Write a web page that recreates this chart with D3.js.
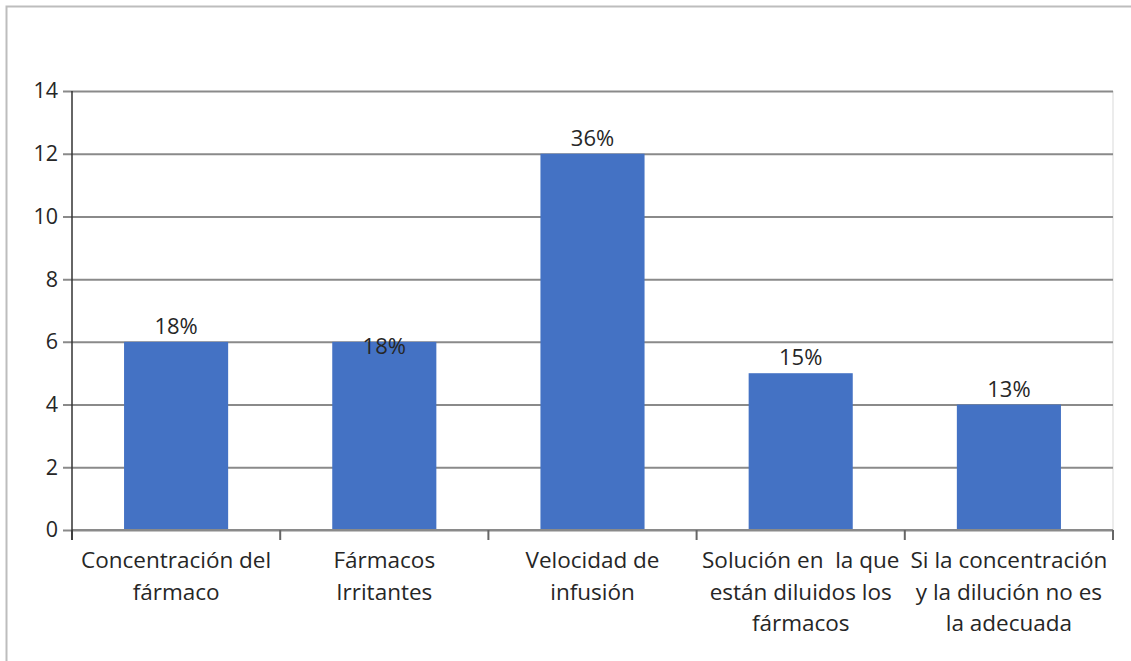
<!DOCTYPE html>
<html>
<head>
<meta charset="utf-8">
<script src="https://cdn.jsdelivr.net/npm/d3@7"></script>
<style>
  html, body { margin: 0; padding: 0; background: #fff; }
  svg { display: block; font-family: "Open Sans", sans-serif; }
  text { white-space: pre; }
</style>
</head>
<body>
<svg id="chart" width="1131" height="661"></svg>
<script>
// Causes of phlebitis related to medication administration
const categories = [
  ["Concentración del", "fármaco"],
  ["Fármacos", "Irritantes"],
  ["Velocidad de", "infusión"],
  ["Solución en  la que", "están diluidos los", "fármacos"],
  ["Si la concentración", "y la dilución no es", "la adecuada"]
];
const values = [6, 6, 12, 5, 4];
const percentLabels = ["18%", "18%", "36%", "15%", "13%"];
const yTicks = [0, 2, 4, 6, 8, 10, 12, 14];

const svg = d3.select("#chart");
const margin = { left: 72, right: 1113, top: 91, bottom: 530 };
const textColor = "#262626";

// outer frame (top and left edges)
svg.append("path")
  .attr("d", "M6.5,661 V6.5 H1131")
  .attr("fill", "none")
  .attr("stroke", "#bdbdbd")
  .attr("stroke-width", 2);

const x = d3.scaleBand()
  .domain(d3.range(categories.length))
  .range([margin.left, margin.right])
  .paddingInner(0.5)
  .paddingOuter(0.25);

const xOuter = d3.scaleBand()
  .domain(d3.range(categories.length))
  .range([margin.left, margin.right]);

const y = d3.scaleLinear().domain([0, 14]).range([margin.bottom, margin.top]);

// plot area right edge
svg.append("line")
  .attr("x1", margin.right).attr("x2", margin.right)
  .attr("y1", margin.top).attr("y2", margin.bottom)
  .attr("stroke", "#d9d9d9").attr("stroke-width", 1);

// horizontal gridlines + y tick marks
const yAxis = d3.axisLeft(y)
  .tickValues(yTicks)
  .tickSize(-(margin.right - margin.left))
  .tickPadding(14)
  .tickFormat(d3.format("d"));

const gy = svg.append("g")
  .attr("transform", `translate(${margin.left},0)`)
  .call(yAxis);
gy.select(".domain").remove();
gy.selectAll(".tick line")
  .attr("x1", -9)
  .attr("stroke", "#8a8a8a")
  .attr("stroke-width", 2);
gy.selectAll(".tick text")
  .attr("font-size", 21.5)
  .attr("fill", textColor)
  .attr("font-family", "'Open Sans', sans-serif");

// bars
svg.append("g").selectAll("rect")
  .data(values)
  .join("rect")
  .attr("x", (d, i) => x(i))
  .attr("width", x.bandwidth())
  .attr("y", d => y(d))
  .attr("height", d => y(0) - y(d))
  .attr("fill", "#4472c4");

// bottom axis with category separators
const gx = svg.append("g");
gx.append("line")
  .attr("x1", margin.left).attr("x2", margin.right)
  .attr("y1", margin.bottom).attr("y2", margin.bottom)
  .attr("stroke", "#8a8a8a").attr("stroke-width", 2);
const sepTicks = d3.range(categories.length + 1).map(i =>
  i < categories.length ? xOuter(i) : xOuter(i - 1) + xOuter.bandwidth());
gx.selectAll("line.sep")
  .data(sepTicks)
  .join("line")
  .attr("class", "sep")
  .attr("x1", d => d).attr("x2", d => d)
  .attr("y1", margin.bottom).attr("y2", margin.bottom + 10)
  .attr("stroke", "#666").attr("stroke-width", 2);

// left axis line
svg.append("line")
  .attr("x1", margin.left).attr("x2", margin.left)
  .attr("y1", margin.top).attr("y2", margin.bottom + 10)
  .attr("stroke", "#333").attr("stroke-width", 1.5);

// category labels
const labels = svg.append("g").selectAll("text")
  .data(categories)
  .join("text")
  .attr("text-anchor", "middle")
  .attr("font-size", 22.5)
  .attr("fill", textColor);
labels.each(function (lines, i) {
  const cx = xOuter(i) + xOuter.bandwidth() / 2;
  d3.select(this).selectAll("tspan")
    .data(lines)
    .join("tspan")
    .attr("x", cx)
    .attr("y", (d, j) => 568 + j * 31.5)
    .text(d => d);
});

// value labels
const labelDy = [-8, 12, -8, -8, -8];
svg.append("g").selectAll("text")
  .data(values)
  .join("text")
  .attr("x", (d, i) => x(i) + x.bandwidth() / 2)
  .attr("y", (d, i) => y(d) + labelDy[i])
  .attr("text-anchor", "middle")
  .attr("font-size", 22)
  .attr("fill", textColor)
  .text((d, i) => percentLabels[i]);
</script>
</body>
</html>
